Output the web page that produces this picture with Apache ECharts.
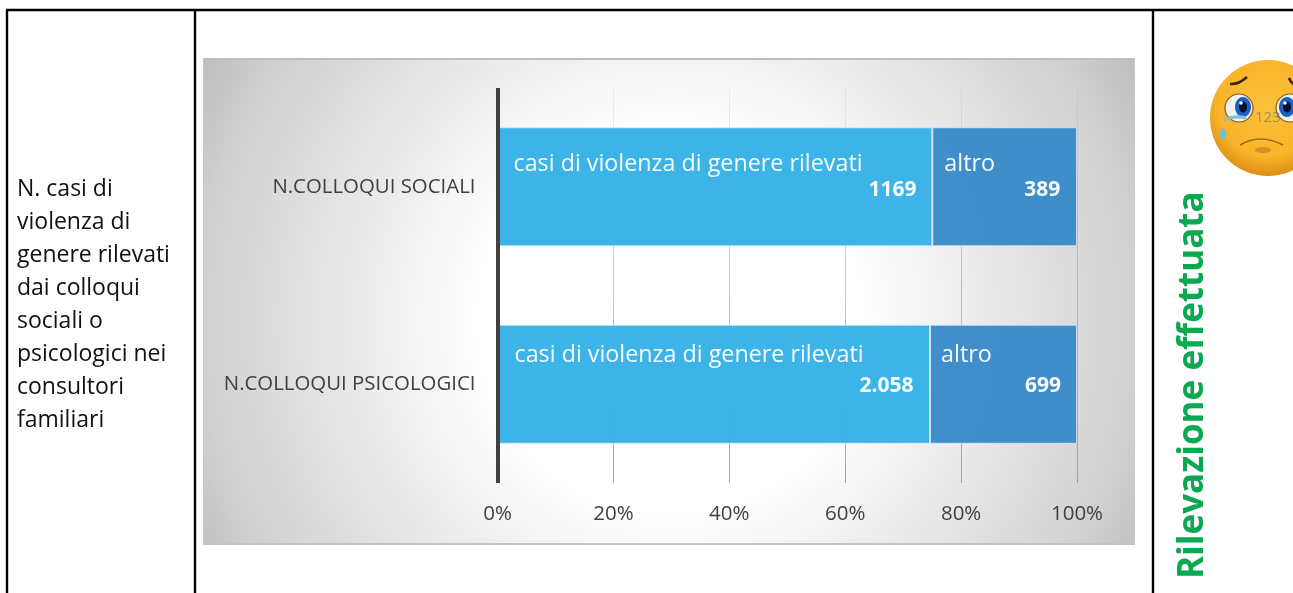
<!DOCTYPE html>
<html>
<head>
<meta charset="utf-8">
<title>Rilevazione</title>
<script src="https://cdn.jsdelivr.net/npm/echarts@6/dist/echarts.min.js"></script>
<style>
html, body { margin: 0; padding: 0; background: #fff; overflow: hidden; }
#panel {
    position: absolute; left: 203px; top: 58px; width: 932px; height: 487px;
    box-sizing: border-box; border: 1px solid #c8c8c8; border-top: 2px solid #bebebe; border-bottom: 2px solid #c4c4c4;
    background: radial-gradient(circle 470px at 466px 260px, #ffffff 41%, #d0d0d0 100%, #b8b8b8 118%);
}
#chart { position: absolute; left: 0; top: 0; width: 1293px; height: 593px; }
</style>
</head>
<body>
<div id="panel"></div>
<div id="chart"></div>
<script>
const categories = ['N.COLLOQUI SOCIALI', 'N.COLLOQUI PSICOLOGICI'];
const casiValues = [1169, 2058];
const altroValues = [389, 699];
const casiLabels = ['1169', '2.058'];
const altroLabels = ['389', '699'];
const casiName = 'casi di violenza di genere rilevati';
const altroName = 'altro';
const ticks = [0, 20, 40, 60, 80, 100];
const leftText = ['N. casi di', 'violenza di', 'genere rilevati', 'dai colloqui', 'sociali o', 'psicologici nei', 'consultori', 'familiari'];
const sideTitle = 'Rilevazione effettuata';

const FONT = '"Open Sans", sans-serif';

const share = (a, b, i) => a[i] / (a[i] + b[i]) * 100;

// each bar carries the series name on top and the bold number lower on the right
function barItem(value, text, width, left, y, gap) {
    return {
        value: value,
        label: {
            formatter: '{n|' + text[0] + '}\n{v|' + text[1] + '}',
            width: width,
            offset: [left, y],
            rich: {
                n: { fontFamily: FONT, fontSize: 23.3, color: '#fff', lineHeight: 26, width: width, align: 'left' },
                v: { fontFamily: FONT, fontSize: 21, fontWeight: 'bold', color: '#fff', lineHeight: gap, width: width, align: 'right' }
            }
        }
    };
}

const barStyle = { opacity: 0.96, borderColor: 'rgba(225,240,250,0.75)', borderWidth: 1 };

const borders = [
    [6, 10, 1293, 10],
    [7, 10, 7, 593],
    [195, 10, 195, 593],
    [1153, 10, 1153, 593]
].map(p => ({
    type: 'line', z: 10,
    shape: { x1: p[0], y1: p[1], x2: p[2], y2: p[3] },
    style: { stroke: '#000', lineWidth: 2.4 }
}));

const notes = leftText.map((t, i) => ({
    type: 'text', x: 17, y: 189 + i * 33.1,
    style: { text: t, fontFamily: FONT, fontSize: 23, fill: '#111', verticalAlign: 'middle' }
}));

const face = [
    { type: 'circle', shape: { cx: 1268, cy: 118, r: 58 },
      style: { fill: { type: 'radial', x: 0.5, y: 0.4, r: 0.62, colorStops: [
          { offset: 0, color: '#fbc23a' }, { offset: 0.7, color: '#f9b42a' }, { offset: 1, color: '#d98a10' }] } } },
    // left eye
    { type: 'ellipse', shape: { cx: 1239, cy: 108, rx: 14, ry: 14 }, style: { fill: '#eef0f2', stroke: '#8a5c14', lineWidth: 1.2 } },
    { type: 'ellipse', shape: { cx: 1243, cy: 107, rx: 8, ry: 10 }, style: { fill: '#1e5fc4' } },
    { type: 'ellipse', shape: { cx: 1243, cy: 107, rx: 4, ry: 5.5 }, style: { fill: '#0a1030' } },
    { type: 'circle', shape: { cx: 1241, cy: 103, r: 1.8 }, style: { fill: '#fff' } },
    // right eye
    { type: 'ellipse', shape: { cx: 1290, cy: 108, rx: 14, ry: 14 }, style: { fill: '#eef0f2', stroke: '#8a5c14', lineWidth: 1.2 } },
    { type: 'ellipse', shape: { cx: 1287, cy: 107, rx: 8, ry: 10 }, style: { fill: '#1e5fc4' } },
    { type: 'ellipse', shape: { cx: 1287, cy: 107, rx: 4, ry: 5.5 }, style: { fill: '#0a1030' } },
    { type: 'circle', shape: { cx: 1285, cy: 103, r: 1.8 }, style: { fill: '#fff' } },
    // brows
    { type: 'bezierCurve', shape: { x1: 1230, y1: 84, cpx1: 1238, cpy1: 85, x2: 1247, y2: 77 }, style: { stroke: '#3a2408', lineWidth: 2.5, fill: null } },
    { type: 'bezierCurve', shape: { x1: 1289, y1: 78, cpx1: 1291, cpy1: 84, x2: 1298, y2: 87 }, style: { stroke: '#3a2408', lineWidth: 2.5, fill: null } },
    // tear
    { type: 'bezierCurve', shape: { x1: 1224, y1: 120, cpx1: 1234, cpy1: 115, x2: 1246, y2: 118 }, style: { stroke: '#7cc4dc', lineWidth: 3, fill: null } },
    { type: 'ellipse', shape: { cx: 1223, cy: 134, rx: 3, ry: 5.5 }, style: { fill: '#6cc0e0' } },
    // mouth
    { type: 'bezierCurve', shape: { x1: 1240, y1: 145, cpx1: 1260, cpy1: 133, x2: 1283, y2: 145 }, style: { stroke: '#a06a12', lineWidth: 1.5, fill: null } },
    { type: 'ellipse', shape: { cx: 1263, cy: 150, rx: 8, ry: 3 }, style: { fill: '#d0912a' } },
    { type: 'text', x: 1255, y: 118, style: { text: '123', fontFamily: FONT, fontSize: 15, fill: 'rgba(120,120,120,0.7)', verticalAlign: 'middle' } }
];

const chart = echarts.init(document.getElementById('chart'), null, { renderer: 'canvas' });
chart.setOption({
    animation: false,
    backgroundColor: 'transparent',
    grid: { left: 497.5, top: 88, width: 579.5, height: 395, containLabel: false },
    xAxis: {
        type: 'value', min: 0, max: 100, interval: 20,
        axisLine: { show: false }, axisTick: { show: false },
        splitLine: {
            show: true,
            lineStyle: {
                width: 1,
                // the gridlines fade out towards the top of the plot
                color: {
                    type: 'linear', global: true, x: 0, y: 88, x2: 0, y2: 483,
                    colorStops: [
                        { offset: 0, color: 'rgba(150,150,150,0.12)' },
                        { offset: 0.5, color: 'rgba(150,150,150,0.52)' },
                        { offset: 1, color: 'rgba(150,150,150,0.85)' }
                    ]
                }
            }
        },
        axisLabel: {
            margin: 21, fontFamily: FONT, fontSize: 20.5, color: '#404040',
            formatter: v => ticks.includes(v) ? v + '%' : ''
        }
    },
    yAxis: {
        type: 'category', inverse: true, data: categories, z: 10,
        axisLine: { show: true, lineStyle: { color: '#404040', width: 4, cap: 'butt' } },
        axisTick: { show: false },
        axisLabel: { margin: 22, fontFamily: FONT, fontSize: 20.4, color: '#404040' }
    },
    series: [
        {
            name: casiName, type: 'bar', stack: 'tot', barWidth: 119, z: 3,
            itemStyle: Object.assign({ color: '#35b1e6' }, barStyle),
            label: { show: true, position: 'insideTopLeft', distance: 0 },
            data: [
                barItem(share(casiValues, altroValues, 0), [casiName, casiLabels[0]], 403, 16, 24, 26),
                barItem(share(casiValues, altroValues, 1), [casiName, casiLabels[1]], 399, 17, 18, 35)
            ]
        },
        {
            name: altroName, type: 'bar', stack: 'tot', barWidth: 119, z: 3,
            itemStyle: Object.assign({ color: '#3889c8' }, barStyle),
            label: { show: true, position: 'insideTopLeft', distance: 0 },
            data: [
                barItem(share(altroValues, casiValues, 0), [altroName, altroLabels[0]], 116, 12, 24, 26),
                barItem(share(altroValues, casiValues, 1), [altroName, altroLabels[1]], 120, 11, 18, 35)
            ]
        }
    ],
    graphic: borders.concat(notes, face, [{
        type: 'text', x: 1193, y: 579, rotation: Math.PI / 2,
        style: { text: sideTitle, fontFamily: FONT, fontSize: 35, fontWeight: 'bold', fill: '#0aa850', verticalAlign: 'middle', align: 'left' }
    }])
});
</script>
</body>
</html>
